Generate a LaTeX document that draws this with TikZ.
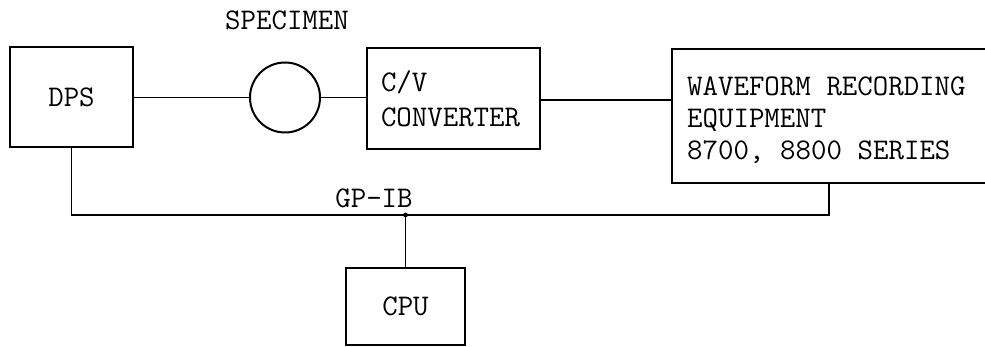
\documentclass[tikz,border=0pt]{standalone}
\usepackage{fontspec}
\newcommand{\tsp}{\hspace*{0.525em}}
\begin{document}
\begin{tikzpicture}[x=1pt,y=-1pt,
  every node/.style={font=\ttfamily\fontsize{30}{32}\selectfont},
  blk/.style={draw,line width=2pt,rectangle,inner sep=0pt},
  wire/.style={line width=1.6pt}]
\useasboundingbox (0,0) rectangle (985,347);
\node[blk,minimum width=123pt,minimum height=100pt] (dps) at (71.5,97.5) {DPS};
\node[draw,line width=2pt,circle,minimum size=70pt,inner sep=0pt] (spec) at (285,97.5) {};
\node (speclbl) at (287,20) {SPECIMEN};
\node[blk,minimum width=173pt,minimum height=101pt,text width=145pt,align=left,
  font=\ttfamily\fontsize{30}{35}\selectfont] (cv) at (453.5,98.5) {C/V\\CONVERTER};
\node[blk,minimum width=320pt,minimum height=134pt] (wf) at (832,116) {};
\node[anchor=west,align=left,inner sep=0pt] (wftxt) at ([xshift=16pt,yshift=-4pt]wf.west)
  {WAVEFORM\tsp RECORDING\\EQUIPMENT\\8700,\tsp 8800\tsp SERIES};
\node[blk,minimum width=119pt,minimum height=77pt] (cpu) at (405.5,306.5) {CPU};
\coordinate (jn) at (405.5,215);
\coordinate (wfbot) at (829,183);
\node (gpib) at (374,198) {GP-IB};
\draw[wire] (dps.east) -- (spec.west);
\draw[wire] (spec.east) -- (spec.east -| cv.west);
\draw[wire] ([yshift=-1.5pt]cv.east) -- ([yshift=-1.5pt]cv.east -| wf.west);
\draw[wire] (dps.south) |- (jn) -| (wfbot);
\draw[wire] (jn) -- (cpu.north);
\fill (jn) circle (2.4pt);
\end{tikzpicture}
\end{document}
